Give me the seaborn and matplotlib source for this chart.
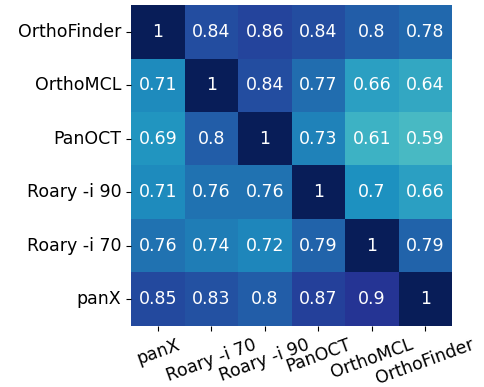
import matplotlib
matplotlib.use("Agg")
import matplotlib.pyplot as plt
import seaborn as sns
import pandas as pd

row_labels = ["OrthoFinder", "OrthoMCL", "PanOCT", "Roary -i 90", "Roary -i 70", "panX"]
col_labels = ["panX", "Roary -i 70", "Roary -i 90", "PanOCT", "OrthoMCL", "OrthoFinder"]

orthofinder = [1, 0.84, 0.86, 0.84, 0.8, 0.78]
orthomcl = [0.71, 1, 0.84, 0.77, 0.66, 0.64]
panoct = [0.69, 0.8, 1, 0.73, 0.61, 0.59]
roary_90 = [0.71, 0.76, 0.76, 1, 0.7, 0.66]
roary_70 = [0.76, 0.74, 0.72, 0.79, 1, 0.79]
panx = [0.85, 0.83, 0.8, 0.87, 0.9, 1]

df = pd.DataFrame([orthofinder, orthomcl, panoct, roary_90, roary_70, panx],
                  index=row_labels, columns=col_labels)

fig = plt.figure(figsize=(4.84, 3.87), dpi=100)
ax = fig.add_axes([0.271, 0.158, 0.663, 0.829])
sns.heatmap(df, ax=ax, cmap="YlGnBu", vmin=0.2, vmax=1, annot=True, cbar=False,
            square=True, annot_kws={"size": 12.5, "color": "white"})
ax.tick_params(axis="both", labelsize=12.5)
plt.setp(ax.get_xticklabels(), rotation=20, ha="center")
plt.setp(ax.get_yticklabels(), rotation=0)
fig.savefig("out.png", dpi=100)
